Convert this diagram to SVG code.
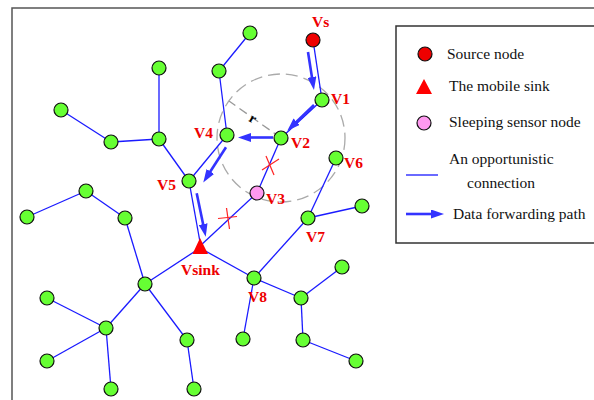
<svg xmlns="http://www.w3.org/2000/svg" width="594" height="400" viewBox="0 0 594 400">
<style>
.n{fill:#66ff33;stroke:#111;stroke-width:1.2}
.e{stroke:#1a1aff;stroke-width:1.3;fill:none}
.a{stroke:#3333ff;stroke-width:2.6;fill:none;marker-end:url(#ah)}
.lb{font-family:"Liberation Serif","Times New Roman",serif;font-weight:bold;font-size:15.5px;fill:#ee0000}
.lg{font-family:"Liberation Serif","Times New Roman",serif;font-size:15.5px;fill:#111}
.x{stroke:#ff2222;stroke-width:1.2}
</style>
<defs>
<marker id="ah" markerUnits="userSpaceOnUse" markerWidth="13" markerHeight="9" refX="3" refY="4.5" orient="auto">
<path d="M0,0 L13,4.5 L0,9 z" fill="#3333ff"/>
</marker>
</defs>
<rect width="594" height="400" fill="#fff"/>
<g id="frame" fill="none" stroke="#555" stroke-width="1.5">
<path d="M12,400 V8 H594"/>
</g>
<g id="range">
<circle cx="281" cy="138" r="64" fill="none" stroke="#aaa" stroke-width="1.3" stroke-dasharray="12,6"/>
<line x1="281" y1="138" x2="229" y2="101" stroke="#999" stroke-width="1.3" stroke-dasharray="9,5"/>
<text x="249.5" y="123" transform="rotate(30 253 119)" font-family="Liberation Serif,serif" font-weight="bold" font-size="14" fill="#000">r</text>
</g>
<g id="connectors">
<line class="e" x1="250" y1="33" x2="219" y2="71"/>
<line class="e" x1="219" y1="71" x2="227" y2="135"/>
<line class="e" x1="159" y1="68" x2="159" y2="139"/>
<line class="e" x1="61" y1="110" x2="111" y2="142"/>
<line class="e" x1="111" y1="142" x2="159" y2="139"/>
<line class="e" x1="159" y1="139" x2="189" y2="181"/>
<line class="e" x1="189" y1="181" x2="200" y2="242"/>
<line class="e" x1="227" y1="135" x2="189" y2="181"/>
<line class="e" x1="313" y1="40" x2="322" y2="100"/>
<line class="e" x1="322" y1="100" x2="281" y2="138"/>
<line class="e" x1="281" y1="138" x2="257" y2="193"/>
<line class="e" x1="257" y1="193" x2="200" y2="246"/>
<line class="e" x1="86" y1="191" x2="27" y2="217"/>
<line class="e" x1="86" y1="191" x2="125" y2="218"/>
<line class="e" x1="125" y1="218" x2="145" y2="284"/>
<line class="e" x1="200" y1="248" x2="145" y2="284"/>
<line class="e" x1="145" y1="284" x2="106" y2="328"/>
<line class="e" x1="47" y1="298" x2="106" y2="328"/>
<line class="e" x1="106" y1="328" x2="47" y2="361"/>
<line class="e" x1="106" y1="328" x2="111" y2="389"/>
<line class="e" x1="145" y1="284" x2="187" y2="340"/>
<line class="e" x1="187" y1="340" x2="194" y2="389"/>
<line class="e" x1="200" y1="248" x2="254" y2="278"/>
<line class="e" x1="254" y1="278" x2="243" y2="339"/>
<line class="e" x1="254" y1="278" x2="301" y2="298"/>
<line class="e" x1="301" y1="298" x2="342" y2="267"/>
<line class="e" x1="301" y1="298" x2="303" y2="340"/>
<line class="e" x1="303" y1="340" x2="356" y2="361"/>
<line class="e" x1="254" y1="278" x2="308" y2="218"/>
<line class="e" x1="308" y1="218" x2="336" y2="158"/>
<line class="e" x1="308" y1="218" x2="362" y2="206"/>
</g>
<g id="paths">
<line class="a" x1="308" y1="52" x2="312.4" y2="80"/>
<line class="a" x1="314" y1="105" x2="294.5" y2="123.8"/>
<line class="a" x1="273" y1="137.5" x2="248" y2="137.5"/>
<line class="a" x1="226" y1="147.3" x2="208.7" y2="174"/>
<line class="a" x1="196.7" y1="193.3" x2="203.7" y2="227"/>
</g>
<g id="breaks">
<line class="x" x1="262" y1="170" x2="279" y2="159"/>
<line class="x" x1="266" y1="156" x2="274" y2="175"/>
<line class="x" x1="218" y1="218.5" x2="237" y2="216.5"/>
<line class="x" x1="226.5" y1="208" x2="229.5" y2="229"/>
</g>
<g id="nodes">
<circle class="n" cx="250" cy="33" r="7"/>
<circle class="n" cx="219" cy="71" r="7"/>
<circle class="n" cx="159" cy="68" r="7"/>
<circle class="n" cx="61" cy="110" r="7"/>
<circle class="n" cx="111" cy="142" r="7"/>
<circle class="n" cx="159" cy="139" r="7"/>
<circle class="n" cx="86" cy="191" r="7"/>
<circle class="n" cx="27" cy="217" r="7"/>
<circle class="n" cx="125" cy="218" r="7"/>
<circle class="n" cx="145" cy="284" r="7"/>
<circle class="n" cx="47" cy="298" r="7"/>
<circle class="n" cx="106" cy="328" r="7"/>
<circle class="n" cx="47" cy="361" r="7"/>
<circle class="n" cx="111" cy="389" r="7"/>
<circle class="n" cx="187" cy="340" r="7"/>
<circle class="n" cx="194" cy="389" r="7"/>
<circle class="n" cx="243" cy="339" r="7"/>
<circle class="n" cx="301" cy="298" r="7"/>
<circle class="n" cx="342" cy="267" r="7"/>
<circle class="n" cx="303" cy="340" r="7"/>
<circle class="n" cx="356" cy="361" r="7"/>
<circle class="n" cx="362" cy="206" r="7"/>
</g>
<g id="Vs"><circle cx="313" cy="40" r="7" fill="#ee0000" stroke="#111" stroke-width="1.2"/><text class="lb" x="312" y="27">Vs</text></g>
<g id="V1"><circle class="n" cx="322" cy="100" r="7"/><text class="lb" x="331" y="104">V1</text></g>
<g id="V2"><circle class="n" cx="281" cy="138" r="7"/><text class="lb" x="291" y="148">V2</text></g>
<g id="V4"><circle class="n" cx="227" cy="135" r="7"/><text class="lb" x="194" y="138">V4</text></g>
<g id="V5"><circle class="n" cx="189" cy="181" r="7"/><text class="lb" x="157" y="190">V5</text></g>
<g id="V3"><circle cx="257" cy="193" r="7" fill="#ff99f0" stroke="#111" stroke-width="1.2"/><text class="lb" x="266" y="204">V3</text></g>
<g id="V6"><circle class="n" cx="336" cy="158" r="7"/><text class="lb" x="344" y="168">V6</text></g>
<g id="V7"><circle class="n" cx="308" cy="218" r="7"/><text class="lb" x="306" y="242">V7</text></g>
<g id="V8"><circle class="n" cx="254" cy="278" r="7"/><text class="lb" x="248" y="302">V8</text></g>
<g id="Vsink"><polygon points="200,238 192.5,254 208,254" fill="#ff0000"/><text class="lb" x="181" y="275">Vsink</text></g>
<g id="legend">
<rect x="396" y="26" width="210" height="217" fill="#fff" stroke="#333" stroke-width="1.5"/>
<circle cx="425" cy="54" r="7" fill="#ee0000" stroke="#111" stroke-width="1.2"/>
<text class="lg" x="447" y="59">Source node</text>
<polygon points="424,79 416,94 432,94" fill="#ff0000"/>
<text class="lg" x="449" y="91">The mobile sink</text>
<circle cx="424" cy="123" r="7" fill="#ff99f0" stroke="#111" stroke-width="1.2"/>
<text class="lg" x="449" y="127">Sleeping sensor node</text>
<text class="lg" x="449" y="164">An opportunistic</text>
<text class="lg" x="467" y="188">connection</text>
<line class="e" x1="406" y1="175" x2="438" y2="175"/>
<line class="a" x1="406" y1="214" x2="434" y2="214"/>
<text class="lg" x="453" y="219">Data forwarding path</text>
</g>
</svg>
